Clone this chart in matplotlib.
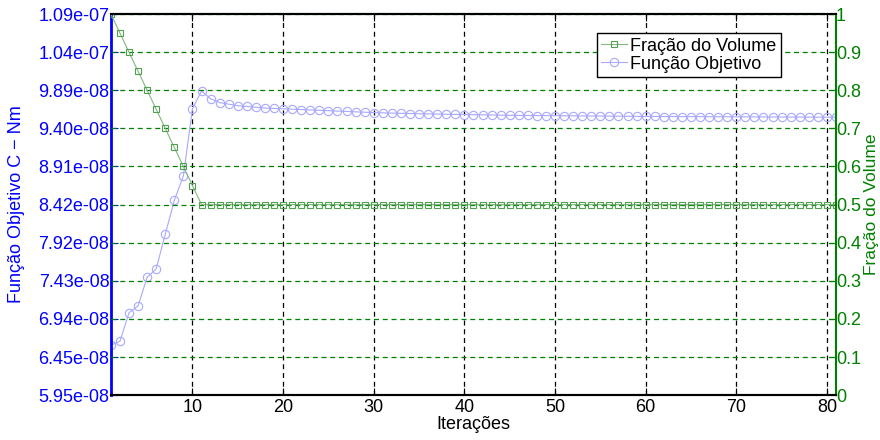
import numpy as np
import matplotlib.pyplot as plt

plt.rcParams['font.family'] = ['Liberation Sans', 'DejaVu Sans']
plt.rcParams['font.size'] = 13

# iterations 1..81
iteracoes = list(range(1, 82))

# objective function (C, N.m)
func_obj = [6.60e-8, 6.65e-8, 7.02e-8, 7.11e-8, 7.48e-8, 7.59e-8, 8.04e-8, 8.48e-8, 8.80e-8, 9.67e-8,
            9.90e-8, 9.80e-8, 9.75e-8, 9.73e-8, 9.71e-8, 9.70e-8, 9.69e-8, 9.68e-8, 9.675e-8, 9.67e-8,
            9.665e-8, 9.66e-8, 9.655e-8, 9.65e-8, 9.645e-8, 9.64e-8, 9.635e-8, 9.63e-8, 9.625e-8, 9.62e-8,
            9.617e-8, 9.614e-8, 9.611e-8, 9.608e-8, 9.605e-8, 9.603e-8, 9.601e-8, 9.599e-8, 9.597e-8, 9.595e-8,
            9.593e-8, 9.591e-8, 9.589e-8, 9.587e-8, 9.585e-8, 9.584e-8, 9.583e-8, 9.582e-8, 9.581e-8, 9.58e-8,
            9.579e-8, 9.578e-8, 9.577e-8, 9.576e-8, 9.575e-8, 9.574e-8, 9.573e-8, 9.572e-8, 9.571e-8, 9.57e-8,
            9.57e-8, 9.569e-8, 9.569e-8, 9.568e-8, 9.568e-8, 9.567e-8, 9.567e-8, 9.566e-8, 9.566e-8, 9.565e-8,
            9.565e-8, 9.564e-8, 9.564e-8, 9.563e-8, 9.563e-8, 9.562e-8, 9.562e-8, 9.561e-8, 9.561e-8, 9.56e-8,
            9.56e-8]

# volume fraction
frac_vol = [1.0, 0.95, 0.90, 0.85, 0.80, 0.75, 0.70, 0.65, 0.60, 0.55] + [0.5] * 71

y1_labels = ['5.95e-08', '6.45e-08', '6.94e-08', '7.43e-08', '7.92e-08', '8.42e-08',
             '8.91e-08', '9.40e-08', '9.89e-08', '1.04e-07', '1.09e-07']
y1_min, y1_max = 5.95e-8, 1.09e-7

BLUE = '#0000ff'
GREEN = '#008000'
LBLUE = '#a8a8ff'
LGREEN = '#80b880'

fig = plt.figure(figsize=(8.8, 4.4), dpi=100)
ax1 = fig.add_axes([0.126, 0.102, 0.824, 0.866])
ax2 = ax1.twinx()

l1, = ax1.plot(iteracoes, func_obj, color=LBLUE, lw=0.8, marker='o', ms=6,
               mfc='none', mec=LBLUE, mew=0.8, label='Função Objetivo')
l2, = ax2.plot(iteracoes, frac_vol, color=LGREEN, lw=0.8, marker='s', ms=5,
               mfc='none', mec='#50a050', mew=0.8, label='Fração do Volume')

ax1.set_xlim(1, 81)
ax1.set_ylim(y1_min, y1_max)
ax1.set_yticks(np.linspace(y1_min, y1_max, 11))
ax1.set_yticklabels(y1_labels)
ax1.set_xticks(range(10, 81, 10))

ax2.set_ylim(0, 1)
ax2.set_yticks(np.linspace(0, 1, 11))
ax2.set_yticklabels(['0', '0.1', '0.2', '0.3', '0.4', '0.5', '0.6', '0.7', '0.8', '0.9', '1'])

# grids
ax1.xaxis.grid(True, color='k', ls=(0, (4, 3)), lw=0.9)
ax2.yaxis.grid(True, color=GREEN, ls=(0, (4, 3)), lw=0.9)

ax1.tick_params(axis='x', direction='in', top=True, length=5, colors='k', labelsize=13, pad=3)
ax1.tick_params(axis='y', direction='in', length=5, colors=BLUE, labelcolor=BLUE, labelsize=13, pad=1)
ax2.tick_params(axis='y', direction='in', length=5, colors=GREEN, labelcolor=GREEN, labelsize=13, pad=0)

for ax in (ax1, ax2):
    ax.spines['top'].set_color('k')
    ax.spines['bottom'].set_color('k')
    ax.spines['top'].set_linewidth(1.5)
    ax.spines['bottom'].set_linewidth(1.5)
ax1.spines['left'].set_color(BLUE)
ax1.spines['left'].set_linewidth(2)
ax2.spines['left'].set_visible(False)
ax2.spines['right'].set_color(GREEN)
ax2.spines['right'].set_linewidth(1.5)
ax1.spines['right'].set_visible(False)

ax1.set_xlabel('Iterações', fontsize=13, labelpad=0)
ax1.set_ylabel('Função Objetivo C − Nm', color=BLUE, fontsize=13)
ax1.yaxis.set_label_coords(-0.118, 0.5)
ax2.set_ylabel('Fração do Volume', color=GREEN, fontsize=12.5)
ax2.yaxis.set_label_coords(1.039, 0.5)

leg = ax2.legend([l2, l1], ['Fração do Volume', 'Função Objetivo'],
                 loc='upper right', bbox_to_anchor=(0.924, 0.95), fancybox=False,
                 edgecolor='k', framealpha=1, fontsize=13, handlelength=1.4,
                 handletextpad=0.2, borderpad=0.25, labelspacing=0.05, borderaxespad=0)
leg.get_frame().set_linewidth(1.0)

fig.savefig('out.png', dpi=100)
